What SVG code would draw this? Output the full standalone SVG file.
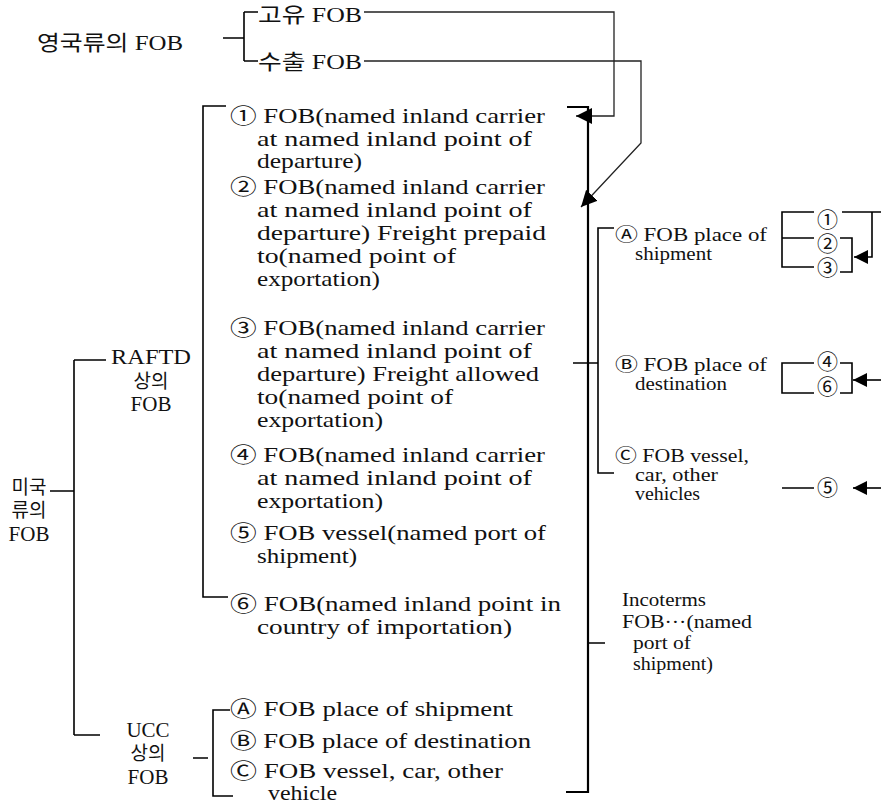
<svg xmlns="http://www.w3.org/2000/svg" width="881" height="805" viewBox="0 0 881 805">
<defs>
<style>
.t{font-family:"Liberation Serif","Noto Sans CJK KR",serif;font-size:21px;fill:#111}
.h{font-family:"Liberation Serif","Noto Sans CJK KR",serif;font-size:21px;fill:#111}
.k{font-family:"Noto Sans CJK KR","Liberation Serif",sans-serif;font-size:19px;fill:#111}
.s{font-family:"Liberation Serif","Noto Sans CJK KR",serif;font-size:18px;fill:#111}
.c{font-family:"Noto Sans CJK KR",sans-serif;font-size:21px;fill:#111}
.ln{stroke:#000;stroke-width:1.6;fill:none}
.bl{stroke:#000;stroke-width:2.2;fill:none}
.ar{stroke:#222;stroke-width:1.3;fill:none}
</style>
<marker id="ah" viewBox="0 0 16 16" refX="16" refY="8" markerWidth="16" markerHeight="16" markerUnits="userSpaceOnUse" orient="auto"><path d="M0,0 L16,8 L0,16 z" fill="#000"/></marker>
<marker id="ah2" viewBox="0 0 14 14" refX="14" refY="7" markerWidth="14" markerHeight="14" markerUnits="userSpaceOnUse" orient="auto"><path d="M0,0 L14,7 L0,14 z" fill="#000"/></marker>
</defs>
<rect width="881" height="805" fill="#fff"/>

<g id="connectors">
<path class="ln" d="M223,38 H244 M244,12 V61 M244,12 H258 M244,61 H258"/>
<path class="ar" d="M364,12 H614 V116 H576" marker-end="url(#ah)"/>
<path class="ar" d="M364,61 H641 V143 L581,207" marker-end="url(#ah)"/>
<path class="ln" d="M50,491 H74 M74,360 V735 M74,360 H106 M74,735 H100"/>
<path class="ln" d="M226,106 H203 V597 H228"/>
<path class="ln" d="M193,758 H208 M230,710 H213 V796 H233"/>
<path class="bl" d="M567,107 H588 V792 H566"/>
<path class="ln" d="M573,363 H598 M614,228 H598 V473 H614 M588,643 H605"/>
<path class="ln" d="M814,212 H782 V267 H814 M782,238 H814 M842,212 H881 M840,238 H852 V272 H840"/>
<path class="ln" d="M814,363 H782 V393 H814 M840,363 H852 V393 H840 M782,488 H814"/>
<path class="ln" d="M872,212 V257 H854" marker-end="url(#ah2)"/>
<path class="ln" d="M881,380 H853" marker-end="url(#ah2)"/>
<path class="ln" d="M881,488 H853" marker-end="url(#ah2)"/>
</g>

<g id="uk">
<text class="h" x="37" y="50" textLength="146" lengthAdjust="spacingAndGlyphs">영국류의 FOB</text>
</g>
<g id="uk-own">
<text class="h" x="258" y="22" textLength="104" lengthAdjust="spacingAndGlyphs">고유 FOB</text>
</g>
<g id="uk-export">
<text class="h" x="258" y="69" textLength="104" lengthAdjust="spacingAndGlyphs">수출 FOB</text>
</g>

<g id="us">
<text class="k" x="29" y="494" text-anchor="middle">미국</text>
<text class="k" x="29" y="517" text-anchor="middle">류의</text>
<text class="h" x="29" y="541" text-anchor="middle">FOB</text>
</g>
<g id="raftd">
<text class="h" x="151" y="364" text-anchor="middle" textLength="80" lengthAdjust="spacingAndGlyphs">RAFTD</text>
<text class="k" x="151" y="388" text-anchor="middle">상의</text>
<text class="h" x="151" y="411" text-anchor="middle">FOB</text>
</g>
<g id="ucc">
<text class="h" x="148" y="737" text-anchor="middle">UCC</text>
<text class="k" x="148" y="760" text-anchor="middle">상의</text>
<text class="h" x="148" y="784" text-anchor="middle">FOB</text>
</g>

<g id="r1">
<text class="t" x="230" y="123" textLength="315" lengthAdjust="spacingAndGlyphs">① FOB(named inland carrier</text>
<text class="t" x="257" y="146" textLength="275" lengthAdjust="spacingAndGlyphs">at named inland point of</text>
<text class="t" x="257" y="168" textLength="105" lengthAdjust="spacingAndGlyphs">departure)</text>
</g>
<g id="r2">
<text class="t" x="230" y="194" textLength="315" lengthAdjust="spacingAndGlyphs">② FOB(named inland carrier</text>
<text class="t" x="257" y="217" textLength="275" lengthAdjust="spacingAndGlyphs">at named inland point of</text>
<text class="t" x="257" y="240" textLength="289" lengthAdjust="spacingAndGlyphs">departure) Freight prepaid</text>
<text class="t" x="257" y="263" textLength="199" lengthAdjust="spacingAndGlyphs">to(named point of</text>
<text class="t" x="257" y="286" textLength="123" lengthAdjust="spacingAndGlyphs">exportation)</text>
</g>
<g id="r3">
<text class="t" x="230" y="335" textLength="315" lengthAdjust="spacingAndGlyphs">③ FOB(named inland carrier</text>
<text class="t" x="257" y="358" textLength="275" lengthAdjust="spacingAndGlyphs">at named inland point of</text>
<text class="t" x="257" y="381" textLength="282" lengthAdjust="spacingAndGlyphs">departure) Freight allowed</text>
<text class="t" x="257" y="404" textLength="196" lengthAdjust="spacingAndGlyphs">to(named point of</text>
<text class="t" x="257" y="427" textLength="126" lengthAdjust="spacingAndGlyphs">exportation)</text>
</g>
<g id="r4">
<text class="t" x="230" y="462" textLength="315" lengthAdjust="spacingAndGlyphs">④ FOB(named inland carrier</text>
<text class="t" x="257" y="485" textLength="275" lengthAdjust="spacingAndGlyphs">at named inland point of</text>
<text class="t" x="257" y="508" textLength="126" lengthAdjust="spacingAndGlyphs">exportation)</text>
</g>
<g id="r5">
<text class="t" x="230" y="540" textLength="316" lengthAdjust="spacingAndGlyphs">⑤ FOB vessel(named port of</text>
<text class="t" x="257" y="563" textLength="100" lengthAdjust="spacingAndGlyphs">shipment)</text>
</g>
<g id="r6">
<text class="t" x="230" y="611" textLength="331" lengthAdjust="spacingAndGlyphs">⑥ FOB(named inland point in</text>
<text class="t" x="257" y="634" textLength="255" lengthAdjust="spacingAndGlyphs">country of importation)</text>
</g>

<g id="u1"><text class="t" x="230" y="716" textLength="283" lengthAdjust="spacingAndGlyphs">Ⓐ FOB place of shipment</text></g>
<g id="u2"><text class="t" x="230" y="748" textLength="301" lengthAdjust="spacingAndGlyphs">Ⓑ FOB place of destination</text></g>
<g id="u3">
<text class="t" x="230" y="778" textLength="273" lengthAdjust="spacingAndGlyphs">Ⓒ FOB vessel, car, other</text>
<text class="t" x="268" y="800" textLength="69" lengthAdjust="spacingAndGlyphs">vehicle</text>
</g>

<g id="ca">
<text class="s" x="615" y="241" textLength="152" lengthAdjust="spacingAndGlyphs">Ⓐ FOB place of</text>
<text class="s" x="635" y="260" textLength="77" lengthAdjust="spacingAndGlyphs">shipment</text>
</g>
<g id="cb">
<text class="s" x="615" y="371" textLength="152" lengthAdjust="spacingAndGlyphs">Ⓑ FOB place of</text>
<text class="s" x="635" y="390" textLength="92" lengthAdjust="spacingAndGlyphs">destination</text>
</g>
<g id="cc">
<text class="s" x="615" y="462" textLength="134" lengthAdjust="spacingAndGlyphs">Ⓒ FOB vessel,</text>
<text class="s" x="635" y="481" textLength="83" lengthAdjust="spacingAndGlyphs">car, other</text>
<text class="s" x="635" y="500" textLength="65" lengthAdjust="spacingAndGlyphs">vehicles</text>
</g>

<g id="incoterms">
<text class="s" x="622" y="606" textLength="84" lengthAdjust="spacingAndGlyphs">Incoterms</text>
<text class="s" x="622" y="628" textLength="130" lengthAdjust="spacingAndGlyphs">FOB···(named</text>
<text class="s" x="633" y="649" textLength="58" lengthAdjust="spacingAndGlyphs">port of</text>
<text class="s" x="633" y="670" textLength="80" lengthAdjust="spacingAndGlyphs">shipment)</text>
</g>

<g id="n123">
<text class="c" x="817" y="227">①</text>
<text class="c" x="817" y="251">②</text>
<text class="c" x="817" y="275">③</text>
</g>
<g id="n46">
<text class="c" x="817" y="369">④</text>
<text class="c" x="817" y="394">⑥</text>
</g>
<g id="n5">
<text class="c" x="817" y="495">⑤</text>
</g>
</svg>
